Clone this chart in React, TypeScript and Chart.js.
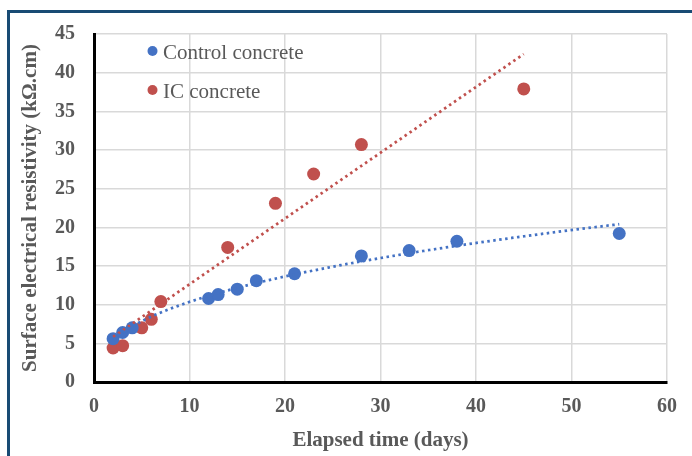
import React, { useEffect, useRef } from "react";
import { Chart, registerables } from "chart.js";

Chart.register(...registerables);

// ---- Data ----
const controlDays = [2, 3, 4, 12, 13, 15, 17, 21, 28, 33, 38, 55];
const controlResistivity = [5.6, 6.4, 7.0, 10.8, 11.3, 12.0, 13.1, 14.0, 16.3, 17.0, 18.2, 19.2];
const icDays = [2, 3, 5, 6, 7, 14, 19, 23, 28, 45];
const icResistivity = [4.4, 4.7, 7.0, 8.1, 10.4, 17.4, 23.1, 26.9, 30.7, 37.9];
const xTicks = [0, 10, 20, 30, 40, 50, 60];
const yTicks = [0, 5, 10, 15, 20, 25, 30, 35, 40, 45];
const seriesLabels = ["Control concrete", "IC concrete"];

const BLUE = "#4472c4";
const RED = "#c0504d";
const TEXT = "#595959";
const SERIF = "'Liberation Serif', 'Times New Roman', serif";

// Excel-style trendlines fitted to the data (least squares)
function linearFit(xs: number[], ys: number[]) {
  const n = xs.length;
  const mx = xs.reduce((a, b) => a + b, 0) / n;
  const my = ys.reduce((a, b) => a + b, 0) / n;
  let sxy = 0, sxx = 0;
  for (let i = 0; i < n; i++) {
    sxy += (xs[i] - mx) * (ys[i] - my);
    sxx += (xs[i] - mx) ** 2;
  }
  const slope = sxy / sxx;
  return { slope, intercept: my - slope * mx };
}
function linearTrend(xs: number[], ys: number[]) {
  const { slope, intercept } = linearFit(xs, ys);
  const lo = Math.min(...xs), hi = Math.max(...xs);
  return [lo, hi].map((x) => ({ x, y: intercept + slope * x }));
}
function powerTrend(xs: number[], ys: number[]) {
  const { slope, intercept } = linearFit(xs.map(Math.log), ys.map(Math.log));
  const c = Math.exp(intercept);
  const lo = Math.min(...xs), hi = Math.max(...xs);
  const pts: { x: number; y: number }[] = [];
  const steps = 80;
  for (let i = 0; i <= steps; i++) {
    const x = lo + ((hi - lo) * i) / steps;
    pts.push({ x, y: c * Math.pow(x, slope) });
  }
  return pts;
}

const legendPlugin = {
  id: "insideLegend",
  afterDraw(chart: any) {
    const { ctx, chartArea } = chart;
    const items = [
      { label: seriesLabels[0], color: BLUE, dy: 17 },
      { label: seriesLabels[1], color: RED, dy: 56 },
    ];
    ctx.save();
    ctx.font = `21px ${SERIF}`;
    ctx.textBaseline = "middle";
    ctx.textAlign = "left";
    for (const it of items) {
      const cx = chartArea.left + 58.5;
      const cy = chartArea.top + it.dy;
      ctx.beginPath();
      ctx.arc(cx, cy, 5, 0, Math.PI * 2);
      ctx.fillStyle = it.color;
      ctx.fill();
      ctx.fillStyle = TEXT;
      ctx.fillText(it.label, cx + 10.5, cy + 2);
    }
    ctx.restore();
  },
};

export default function App() {
  const ref = useRef<HTMLCanvasElement | null>(null);

  useEffect(() => {
    if (!ref.current) return;
    const dotted = {
      showLine: true,
      pointRadius: 0,
      pointHoverRadius: 0,
      borderWidth: 2.75,
      borderDash: [2.5, 3.5],
      fill: false,
    };
    const chart = new Chart(ref.current, {
      type: "scatter",
      data: {
        datasets: [
          {
            label: seriesLabels[0] + " trend",
            data: powerTrend(controlDays, controlResistivity),
            borderColor: BLUE,
            ...dotted,
          } as any,
          {
            label: seriesLabels[1] + " trend",
            data: linearTrend(icDays, icResistivity),
            borderColor: RED,
            ...dotted,
          } as any,
          {
            label: seriesLabels[0],
            data: controlDays.map((x, i) => ({ x, y: controlResistivity[i] })),
            backgroundColor: BLUE,
            borderWidth: 0,
            pointRadius: 6.5,
          },
          {
            label: seriesLabels[1],
            data: icDays.map((x, i) => ({ x, y: icResistivity[i] })),
            backgroundColor: RED,
            borderWidth: 0,
            pointRadius: 6.5,
          },
        ],
      },
      options: {
        animation: false,
        responsive: false,
        layout: { padding: { left: 0, top: 34, right: 25, bottom: 0 } },
        plugins: { legend: { display: false }, tooltip: { enabled: false } },
        scales: {
          x: {
            type: "linear",
            min: 0,
            max: 60,
            afterBuildTicks: (s: any) => {
              s.ticks = xTicks.map((v) => ({ value: v }));
            },
            afterFit: (s: any) => {
              s.height = 74;
            },
            grid: { color: "#d9d9d9", lineWidth: 1.5, drawTicks: false },
            border: { color: "#000", width: 3 },
            ticks: {
              padding: 13,
              color: TEXT,
              font: { family: SERIF, size: 20, weight: "bold" },
            },
            title: {
              display: true,
              text: "Elapsed time (days)",
              color: TEXT,
              font: { family: SERIF, size: 21, weight: "bold" },
              padding: { top: 0, bottom: 3 },
            },
          },
          y: {
            type: "linear",
            min: 0,
            max: 45,
            afterBuildTicks: (s: any) => {
              s.ticks = yTicks.map((v) => ({ value: v }));
            },
            afterFit: (s: any) => {
              s.width = 94;
            },
            grid: { color: "#d9d9d9", lineWidth: 1.5, drawTicks: false },
            border: { color: "#000", width: 3 },
            ticks: {
              padding: 19,
              color: TEXT,
              font: { family: SERIF, size: 20, weight: "bold" },
            },
            title: {
              display: true,
              text: "Surface electrical resistivity (kΩ.cm)",
              color: TEXT,
              font: { family: SERIF, size: 21, weight: "bold" },
              padding: { top: 18, bottom: 0 },
            },
          },
        },
      } as any,
      plugins: [legendPlugin],
    });
    return () => chart.destroy();
  }, []);

  return (
    <div
      style={{
        position: "fixed",
        left: 0,
        top: 0,
        width: 692,
        height: 456,
        overflow: "hidden",
        background: "#fff",
      }}
    >
      <canvas ref={ref} width={692} height={456} style={{ position: "absolute", left: 0, top: 0 }} />
      <div
        style={{
          position: "absolute",
          left: 7,
          top: 10,
          width: 800,
          height: 600,
          borderLeft: "3px solid #184b74",
          borderTop: "3px solid #184b74",
          pointerEvents: "none",
        }}
      />
    </div>
  );
}
